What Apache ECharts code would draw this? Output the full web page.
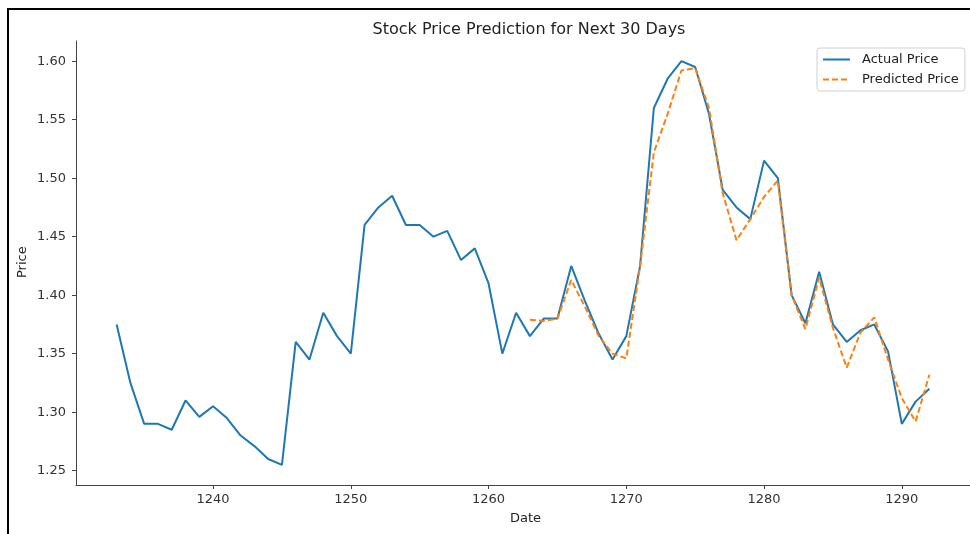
<!DOCTYPE html>
<html>
<head>
<meta charset="utf-8">
<script src="https://cdn.jsdelivr.net/npm/echarts@6/dist/echarts.min.js"></script>
<style>
html,body{margin:0;padding:0;background:#fff;}
#chart{width:970px;height:534px;}
</style>
</head>
<body>
<div id="chart"></div>
<script>
const days = [1233,1234,1235,1236,1237,1238,1239,1240,1241,1242,1243,1244,1245,1246,1247,1248,1249,1250,1251,1252,1253,1254,1255,1256,1257,1258,1259,1260,1261,1262,1263,1264,1265,1266,1267,1268,1269,1270,1271,1272,1273,1274,1275,1276,1277,1278,1279,1280,1281,1282,1283,1284,1285,1286,1287,1288,1289,1290,1291,1292];
const actualPrice = [1.375,1.325,1.29,1.29,1.285,1.31,1.296,1.305,1.295,1.28,1.271,1.26,1.255,1.36,1.345,1.385,1.365,1.35,1.46,1.475,1.485,1.46,1.46,1.45,1.455,1.43,1.44,1.41,1.35,1.385,1.365,1.38,1.38,1.425,1.395,1.367,1.345,1.365,1.425,1.56,1.585,1.60,1.595,1.555,1.49,1.475,1.465,1.515,1.50,1.40,1.376,1.42,1.375,1.36,1.37,1.375,1.352,1.29,1.309,1.32];
const predDays = [1263,1264,1265,1266,1267,1268,1269,1270,1271,1272,1273,1274,1275,1276,1277,1278,1279,1280,1281,1282,1283,1284,1285,1286,1287,1288,1289,1290,1291,1292];
const predictedPrice = [1.379,1.378,1.38,1.413,1.39,1.365,1.35,1.346,1.425,1.522,1.555,1.592,1.594,1.56,1.487,1.447,1.465,1.484,1.498,1.40,1.371,1.415,1.372,1.338,1.368,1.381,1.345,1.312,1.292,1.332];
const xTicks = [1240,1250,1260,1270,1280,1290];
const yTicks = [1.25,1.30,1.35,1.40,1.45,1.50,1.55,1.60];
const seriesNames = ['Actual Price','Predicted Price'];
const titleText = 'Stock Price Prediction for Next 30 Days';
const xName = 'Date';
const yName = 'Price';

const FONT = 'DejaVu Sans';
const chart = echarts.init(document.getElementById('chart'), null, {renderer:'canvas'});
const axisCommon = {
  axisLine:{show:true, lineStyle:{color:'#444', width:1}},
  axisTick:{show:true, inside:false, length:4, lineStyle:{color:'#444', width:1}},
  splitLine:{show:false},
};
chart.setOption({
  animation:false,
  backgroundColor:'#fff',
  title:{
    text:titleText, left:524, top:17, textAlign:'center',
    textStyle:{fontFamily:FONT, fontSize:16, fontWeight:'normal', color:'#222'}
  },
  graphic:[{
    type:'rect', silent:true,
    shape:{x:8, y:9, width:1000, height:600},
    style:{fill:'none', stroke:'#000', lineWidth:2}
  },{
    type:'text', left:510, top:512,
    style:{text:xName, font:'13px "DejaVu Sans"', fill:'#222'}
  },{
    type:'text', x:16, y:278, rotation:Math.PI/2,
    style:{text:yName, font:'13px "DejaVu Sans"', fill:'#222'}
  }],
  legend:{
    orient:'vertical', left:817, top:48,
    data:seriesNames,
    itemWidth:27, itemHeight:12, itemGap:7,
    padding:[5,6,5,5],
    itemStyle:{opacity:0},
    borderColor:'#d0d0d0', borderWidth:1, borderRadius:3,
    backgroundColor:'rgba(255,255,255,0.85)',
    textStyle:{fontFamily:FONT, fontSize:13, color:'#222', padding:[0,0,0,7]}
  },
  grid:{left:76, top:41, width:896, height:444, containLabel:false},
  xAxis:Object.assign({
    type:'value', min:1230.05, max:1294.95,
    axisLabel:{customValues:xTicks, margin:8, fontFamily:FONT, fontSize:13, color:'#333',
      formatter:v=>String(Math.round(v))}
  }, axisCommon, {axisTick:Object.assign({}, axisCommon.axisTick, {customValues:xTicks})}),
  yAxis:Object.assign({
    type:'value', min:1.23775, max:1.61725,
    axisLabel:{customValues:yTicks, margin:10, fontFamily:FONT, fontSize:13, color:'#333',
      formatter:v=>v.toFixed(2)}
  }, axisCommon, {axisTick:Object.assign({}, axisCommon.axisTick, {customValues:yTicks})}),
  series:[{
    name:seriesNames[0], type:'line', symbol:'none',
    data:days.map((d,i)=>[d, actualPrice[i]]),
    lineStyle:{color:'#1f77b4', width:2},
    itemStyle:{color:'#1f77b4'}
  },{
    name:seriesNames[1], type:'line', symbol:'none',
    data:predDays.map((d,i)=>[d, predictedPrice[i]]),
    lineStyle:{color:'#ff7f0e', width:2, type:[6,3]},
    itemStyle:{color:'#ff7f0e'}
  }]
});
</script>
</body>
</html>
